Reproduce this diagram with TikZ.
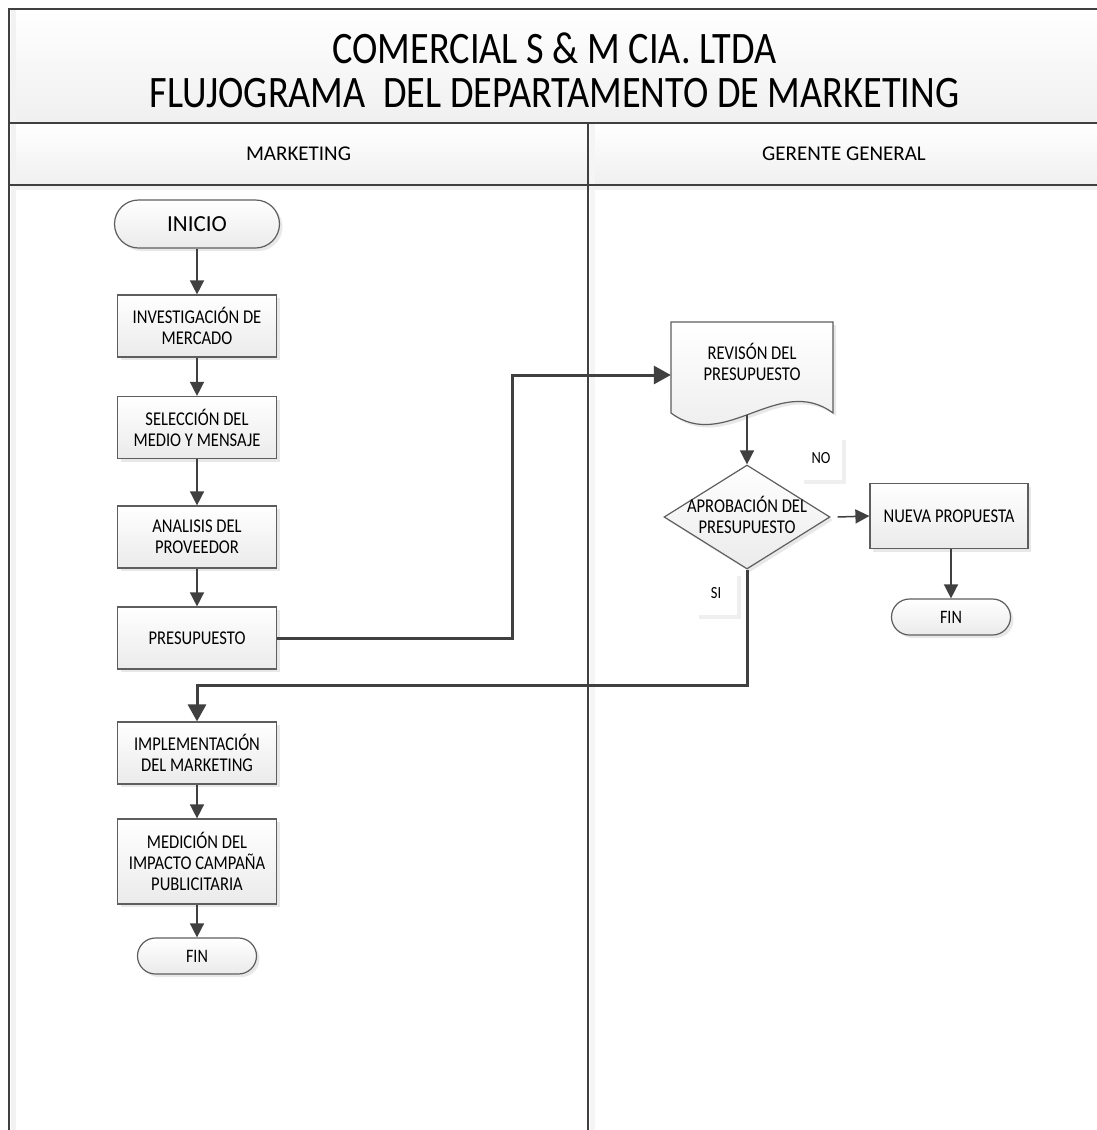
\documentclass[tikz,border=0pt]{standalone}
\usepackage{fontspec}
\setmainfont{Carlito}
\newfontfamily\narrowfont{Carlito}[FakeStretch=0.85]
\usetikzlibrary{arrows.meta,shapes.geometric,shadows}
\definecolor{lineg}{HTML}{404040}
\definecolor{boxg}{HTML}{5E5E5E}

\begin{document}
\begin{tikzpicture}[x=1pt,y=1pt]
            \tikzstyle{every node}+=[inner sep=0pt]
            \tikzstyle{softshadow}=[drop shadow={shadow xshift=3pt, shadow yshift=-3pt, opacity=0.18}]
            \tikzstyle{boxtext}=[align=center, font=\narrowfont\fontsize{19.5}{21}\selectfont]
            \tikzstyle{procbox}=[boxtext, draw=boxg, line width=1.2pt, top color=white, bottom color=gray!16, softshadow, minimum width=159pt, minimum height=62pt]
            \tikzstyle{termbox}=[procbox, rounded corners=18pt, minimum width=119pt, minimum height=36pt, font=\narrowfont\fontsize{19}{21}\selectfont]
            \tikzstyle{decision}=[procbox, diamond, minimum width=166pt, minimum height=104pt]
            \tikzstyle{answer}=[fill=white, minimum width=42pt, minimum height=44pt, font=\narrowfont\fontsize{17}{20}\selectfont, drop shadow={shadow xshift=4pt, shadow yshift=-4pt, opacity=0.12}]
            \tikzstyle{lanehead}=[font=\fontsize{21}{24}\selectfont]
            \tikzstyle{flow}=[draw=lineg, line width=1.5pt, -{Triangle[length=14pt, width=14pt]}]
            \tikzstyle{bigflow}=[draw=lineg, line width=3pt, -{Triangle[length=17pt, width=18pt]}]
            \useasboundingbox (0,0) rectangle (1096,-1130);
            \fill [white] (0,0) rectangle (1096,-1130);
            % title band and lane headers
            \shade [top color=white, bottom color=gray!12] (9,-9) rectangle (1100,-123);
            \shade [top color=white, bottom color=gray!12] (9,-123) rectangle (1100,-185);
            \fill [gray!10] (11,-9) rectangle (16,-1140);
            \fill [gray!8] (590,-123) rectangle (595,-1140);
            \fill [gray!10] (16,-186) rectangle (1100,-190);
            \draw [lineg, line width=1.5pt] (9,-1140) -- (9,-9) -- (1100,-9);
            \draw [lineg, line width=1.5pt] (9,-123) -- (1100,-123);
            \draw [lineg, line width=1.5pt] (9,-185) -- (1100,-185);
            \draw [lineg, line width=1.2pt] (588,-123) -- (588,-1140);
            \node [align=center, font=\narrowfont\fontsize{45}{44}\selectfont] (title) at (554.5,-70) {COMERCIAL S \& M CIA. LTDA\\FLUJOGRAMA\ \ DEL DEPARTAMENTO DE MARKETING};
            \node [lanehead] (mkt) at (298.5,-154) {MARKETING};
            \node [lanehead] (ger) at (844,-154) {GERENTE GENERAL};
            % marketing lane
            \node [termbox, rounded corners=24pt, minimum width=165pt, minimum height=48pt, font=\fontsize{23}{26}\selectfont] (inicio) at (197,-224) {INICIO};
            \node [procbox] (inv) at (197,-326) {INVESTIGACIÓN DE\\MERCADO};
            \node [procbox] (sel) at (197,-427.5) {SELECCIÓN DEL\\MEDIO Y MENSAJE};
            \node [procbox] (ana) at (197,-537) {ANALISIS DEL\\PROVEEDOR};
            \node [procbox] (pres) at (197,-638) {PRESUPUESTO};
            \node [procbox] (impl) at (197,-753) {IMPLEMENTACIÓN\\DEL MARKETING};
            \node [procbox, minimum height=85pt] (med) at (197,-861.5) {MEDICIÓN DEL\\IMPACTO CAMPAÑA\\PUBLICITARIA};
            \node [termbox] (fin1) at (197,-956) {FIN};
            % gerente general lane
            \draw [draw=boxg, line width=1.2pt, top color=white, bottom color=gray!16, softshadow] (671,-322) -- (833,-322) -- (833,-413) .. controls (779,-373) and (725,-453) .. (671,-413) -- cycle;
            \node [boxtext, minimum width=162pt, minimum height=80pt] (rev) at (752,-362) {REVISÓN DEL\\PRESUPUESTO};
            \coordinate (revout) at (747,-415);
            \node [decision] (apr) at (747,-517) {};
            \node [boxtext] (aprtxt) at (747,-515) {APROBACIÓN DEL\\PRESUPUESTO};
            \node [answer] (no) at (821,-458) {NO};
            \node [answer, minimum height=43pt] (si) at (716,-593) {SI};
            \node [procbox, minimum width=158pt, minimum height=65pt] (nueva) at (949,-516) {NUEVA PROPUESTA};
            \node [termbox] (fin2) at (951,-617) {FIN};
            % connectors
            \coordinate (bend1) at (512,-375);
            \coordinate (bend2) at (747,-685);
            \draw [flow] (inicio) -- (inv);
            \draw [flow] (inv) -- (sel);
            \draw [flow] (sel) -- (ana);
            \draw [flow] (ana) -- (pres);
            \draw [bigflow] (pres.east) -| (bend1) -- (bend1 -| rev.west);
            \draw [flow] (revout) -- (apr.north);
            \draw [flow] ([xshift=7pt]apr.east) -- (nueva.west);
            \draw [flow] (nueva.south -| fin2.north) -- (fin2.north);
            \draw [bigflow] (apr.south) -- (bend2) -| (impl.north);
            \draw [flow] (impl) -- (med);
            \draw [flow] (med) -- (fin1);
\end{tikzpicture}
\end{document}
